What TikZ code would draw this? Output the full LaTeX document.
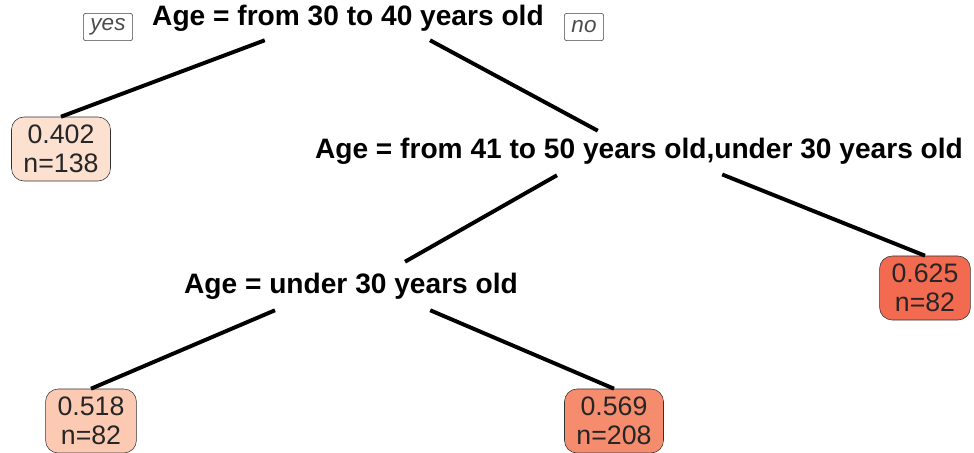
\documentclass[tikz,border=0pt]{standalone}
\usepackage{fontspec}
\setmainfont{Liberation Sans}
\usepackage{tikz}
\usetikzlibrary{positioning}
\definecolor{leafA}{HTML}{FCE0D0}
\definecolor{leafB}{HTML}{FCCAB3}
\definecolor{leafC}{HTML}{F58C6E}
\definecolor{leafD}{HTML}{F26A4F}
\tikzset{
  split/.style = {font=\fontsize{20}{22}\selectfont\bfseries, inner sep=2pt, align=center},
  leaf/.style = {draw=black!80, thin, rounded corners=9pt, font=\fontsize{19}{21}\selectfont, text=black!85, inner xsep=0.3cm, minimum height=1.6cm, align=center},
  tag/.style = {draw=black!75, thin, rounded corners=1.5pt, font=\fontsize{16}{18}\selectfont\itshape, text=black!70, inner xsep=5pt, minimum height=0.68cm},
  branch/.style = {line width=2.8pt}
}
\begin{document}
\begin{tikzpicture}[x=0.025cm,y=-0.025cm]
            \useasboundingbox (0,0) rectangle (974,453);
            \node[split] (root) at (348,18) {Age = from 30 to 40 years old};
            \node[tag] (yes) at (108,27) {yes};
            \node[tag] (no) at (584,27) {no};
            \node[leaf, fill=leafA] (l402) at (61,149) {0.402\\n=138};
            \node[split] (agemid) at (639,151) {Age = from 41 to 50 years old,under 30 years old};
            \node[leaf, fill=leafD] (l625) at (925,288) {0.625\\n=82};
            \node[split] (ageyoung) at (351,286) {Age = under 30 years old};
            \node[leaf, fill=leafB] (l518) at (91,421) {0.518\\n=82};
            \node[leaf, fill=leafC] (l569) at (614,421) {0.569\\n=208};
            \draw[branch] ([xshift=-2.08cm,yshift=-0.15cm]root.south) -- (l402.north);
            \draw[branch] ([xshift=2.05cm,yshift=-0.15cm]root.south) -- ([xshift=-1.03cm,yshift=0.1cm]agemid.north);
            \draw[branch] ([xshift=-2.05cm,yshift=-0.2cm]agemid.south) -- ([xshift=1.35cm,yshift=0.2cm]ageyoung.north);
            \draw[branch] ([xshift=2.08cm,yshift=-0.18cm]agemid.south) -- (l625.north);
            \draw[branch] ([xshift=-1.9cm,yshift=-0.2cm]ageyoung.south) -- (l518.north);
            \draw[branch] ([xshift=1.98cm,yshift=-0.2cm]ageyoung.south) -- (l569.north);
        \end{tikzpicture}
\end{document}
